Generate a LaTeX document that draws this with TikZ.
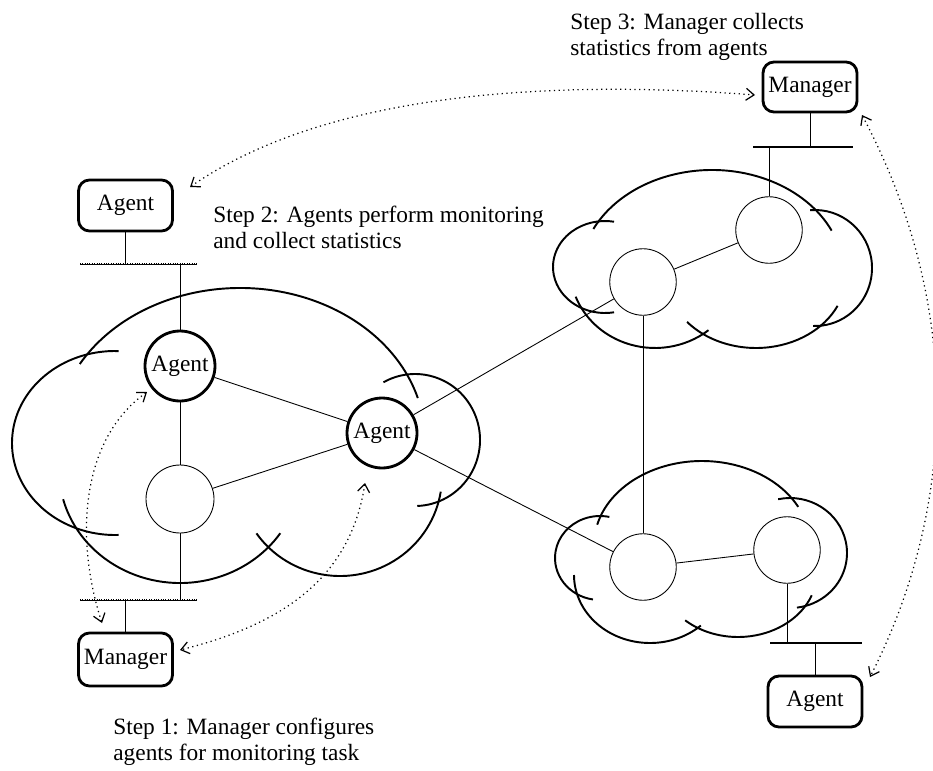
\documentclass[tikz,border=0pt]{standalone}
\usepackage{fontspec}
\setmainfont{Liberation Serif}
\usepackage{tikz}
\usetikzlibrary{arrows.meta}

\begin{document}
\begin{tikzpicture}[
	font=\fontsize{13.3}{14.7}\selectfont,
	box/.style={draw, line width=1.6pt, rounded corners=2.2mm, minimum width=1.88cm, minimum height=1.02cm, inner sep=0pt},
	host/.style={draw, circle, line width=0.5pt, minimum size=1.33cm, inner sep=0pt},
	agc/.style={draw, circle, line width=1.6pt, minimum size=1.4cm, inner sep=0pt},
	cloud/.style={line width=1.1pt},
	hbus/.style={line width=1.5pt, dash pattern=on 0.45pt off 0.9pt},
	dotarr/.style={dotted, line width=0.7pt, {Straight Barb[length=1.6mm,width=2.4mm]}-{Straight Barb[length=1.6mm,width=2.4mm]}},
	txt/.style={align=left, anchor=north west, inner sep=0pt}
	]
\useasboundingbox (0,0) rectangle (18.66,15.4);

\path (2.51,11.29) node[box] (agtl) {Agent}
		(2.51,2.21) node[box, minimum height=1.06cm] (mgl) {Manager}
		(16.2,13.66) node[box, minimum height=1.0cm] (mgr) {Manager}
		(16.3,1.37) node[box] (agr) {Agent}
		(3.6,8.08) node[agc] (agl) {Agent}
		(3.6,5.42) node[host, minimum size=1.36cm] (cl) {}
		(7.64,6.74) node[agc] (agm) {Agent}
		(15.38,10.8) node[host] (cu1) {}
		(12.86,9.76) node[host] (cu2) {}
		(12.86,4.06) node[host] (cd1) {}
		(15.74,4.4) node[host] (cd2) {}
		(11.4,15.14) node[txt] (s3) {Step 3: Manager collects\\statistics from agents}
		(4.26,11.28) node[txt] (s2) {Step 2: Agents perform monitoring\\and collect statistics}
		(2.26,1.04) node[txt] (s1) {Step 1: Manager configures\\agents for monitoring task}
		;

% bus ends and taps
\path (1.6,10.12) coordinate (tlw) (3.94,10.12) coordinate (tle)
		(2.51,10.12) coordinate (tla) (3.6,10.12) coordinate (tlb)
		(1.6,3.4) coordinate (blw) (3.94,3.4) coordinate (ble)
		(2.51,3.4) coordinate (bla) (3.6,3.4) coordinate (blb)
		(15.06,12.46) coordinate (urw) (17.06,12.46) coordinate (ure)
		(16.2,12.46) coordinate (ura) (15.38,12.46) coordinate (urb)
		(15.4,2.54) coordinate (lrw) (17.24,2.54) coordinate (lre)
		(16.3,2.54) coordinate (lra) (15.74,2.54) coordinate (lrb);

% clouds
\draw[cloud] (4.8,6.6) ++(150:3.7 and 3.04) arc[start angle=150, end angle=16, x radius=3.7, y radius=3.04];
\draw[cloud] (2.3,6.54) ++(88:2.06 and 1.84) arc[start angle=88, end angle=272, x radius=2.06, y radius=1.84];
\draw[cloud] (3.6,6.0) ++(195:2.42 and 2.26) arc[start angle=195, end angle=326, x radius=2.42, y radius=2.26];
\draw[cloud] (6.8,5.88) ++(215:2.04 and 2.0) arc[start angle=215, end angle=351, x radius=2.04, y radius=2.0];
\draw[cloud] (8.3,6.6) ++(119:1.3 and 1.32) arc[start angle=119, end angle=-88, x radius=1.3, y radius=1.32];

\draw[cloud] (14.24,9.9) ++(154:2.64 and 2.1) arc[start angle=154, end angle=25, x radius=2.64, y radius=2.1];
\draw[cloud] (16.3,10.04) ++(95:1.14 and 1.16) arc[start angle=95, end angle=-92, x radius=1.14, y radius=1.16];
\draw[cloud] (15.12,9.9) ++(-25:1.8 and 1.46) arc[start angle=-25, end angle=-140, x radius=1.8, y radius=1.46];
\draw[cloud] (13.1,10.04) ++(-51:1.7 and 1.6) arc[start angle=-51, end angle=-159, x radius=1.7, y radius=1.6];
\draw[cloud] (12.1,10.06) ++(280:1.04 and 0.92) arc[start angle=280, end angle=80, x radius=1.04, y radius=0.92];

\draw[cloud] (14.04,4.5) ++(166:2.16 and 1.68) arc[start angle=166, end angle=27, x radius=2.16, y radius=1.68];
\draw[cloud] (15.8,4.34) ++(102:1.14 and 1.1) arc[start angle=102, end angle=-83, x radius=1.14, y radius=1.1];
\draw[cloud] (14.76,3.96) ++(-21:1.58 and 1.3) arc[start angle=-21, end angle=-132, x radius=1.58, y radius=1.3];
\draw[cloud] (13.0,3.9) ++(-48:1.52 and 1.36) arc[start angle=-48, end angle=-180, x radius=1.52, y radius=1.36];
\draw[cloud] (12.0,4.24) ++(261:0.9 and 0.84) arc[start angle=261, end angle=78, x radius=0.9, y radius=0.84];

% buses
\draw[line width=0.5pt] (tlw) -- (tle);
\draw[hbus] (tlw) -- (tle);
\draw[line width=0.5pt] (blw) -- (ble);
\draw[hbus] (blw) -- (ble);
\draw[line width=0.6pt] (urw) -- (ure);
\draw[line width=0.6pt] (lrw) -- (lre);

\draw[line width=0.5pt] (node cs:name=agtl) -- (tla);
\draw[line width=0.5pt] (node cs:name=agl) -- (tlb);
\draw[line width=0.5pt] (node cs:name=cl) -- (blb);
\draw[line width=0.5pt] (node cs:name=mgl) -- (bla);
\draw[line width=0.5pt] (node cs:name=mgr) -- (ura);
\draw[line width=0.5pt] (node cs:name=cu1) -- (urb);
\draw[line width=0.5pt] (node cs:name=cd2) -- (lrb);
\draw[line width=0.5pt] (node cs:name=agr) -- (lra);

% links
\draw[line width=0.5pt] (node cs:name=agl) -- (node cs:name=cl);
\draw[line width=0.5pt] (node cs:name=agl) -- (node cs:name=agm);
\draw[line width=0.5pt] (node cs:name=cl) -- (node cs:name=agm);
\draw[line width=0.5pt] (node cs:name=agm) -- (node cs:name=cu2);
\draw[line width=0.5pt] (node cs:name=agm) -- (node cs:name=cd1);
\draw[line width=0.5pt] (node cs:name=cu2) -- (node cs:name=cu1);
\draw[line width=0.5pt] (node cs:name=cu2) -- (node cs:name=cd1);
\draw[line width=0.5pt] (node cs:name=cd1) -- (node cs:name=cd2);

% dotted arrows
\path (3.8,11.66) coordinate (t1) (15.1,13.5) coordinate (t2)
		(17.24,13.1) coordinate (r1) (17.4,1.86) coordinate (r2)
		(2.94,7.56) coordinate (l1) (2.04,2.94) coordinate (l2)
		(7.3,5.74) coordinate (m1) (3.6,2.4) coordinate (m2);
\draw[dotarr] (t1) .. controls (6.6,13.6) and (11.2,13.8) .. (t2);
\draw[dotarr] (r1) .. controls (19.2,9.4) and (19.2,5.4) .. (r2);
\draw[dotarr] (l1) .. controls (1.6,6.6) and (1.5,4.6) .. (l2);
\draw[dotarr] (m1) .. controls (7.0,3.8) and (5.6,2.9) .. (m2);
\end{tikzpicture}
\end{document}
